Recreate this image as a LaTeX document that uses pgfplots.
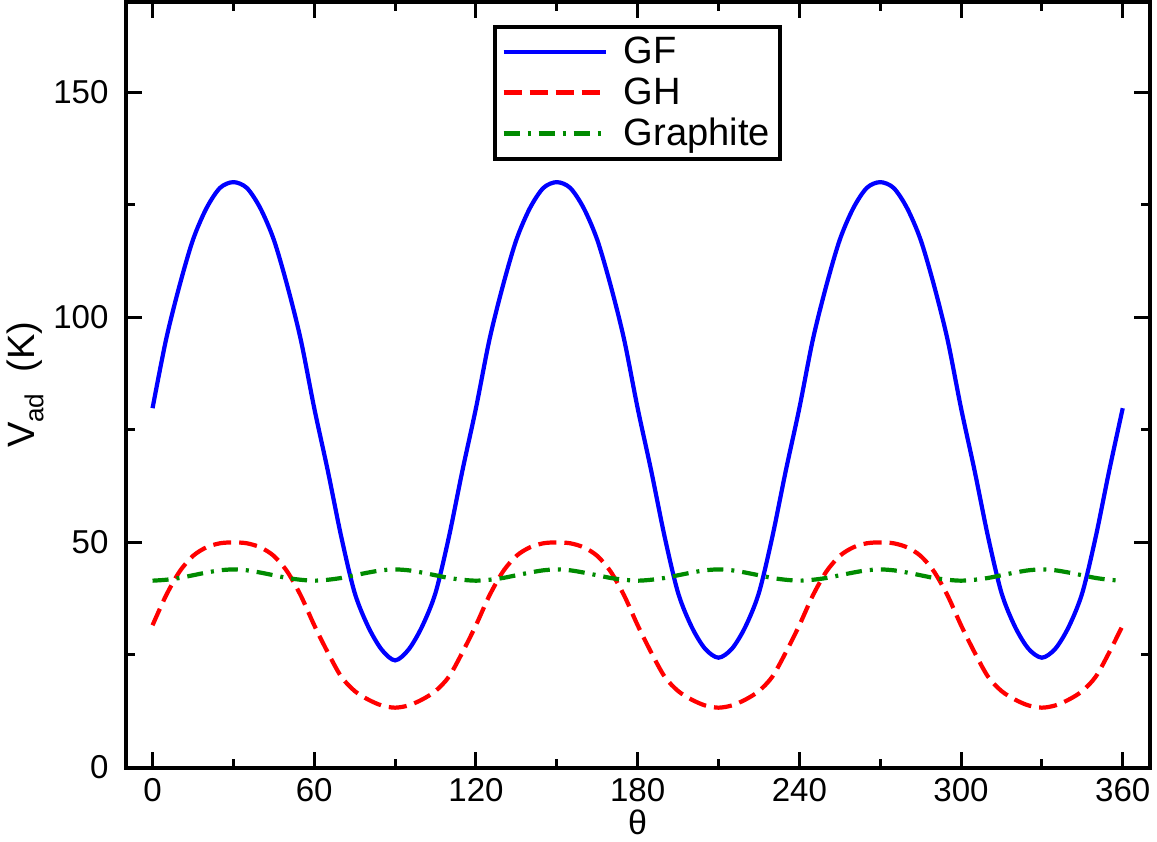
\documentclass[border=0pt]{standalone}
\usepackage{fontspec}
\setmainfont{Liberation Sans}
\usepackage{pgfplots}
\pgfplotsset{compat=1.18}
\definecolor{gfblue}{RGB}{0,0,255}
\definecolor{ghred}{RGB}{255,0,0}
\definecolor{grgreen}{RGB}{0,139,0}
\begin{document}
\begin{tikzpicture}
\begin{axis}[
  width=511pt, height=382pt, scale only axis,
  xmin=-10, xmax=370, ymin=0, ymax=170,
  xtick={0,60,...,360}, minor xtick={30,90,...,330},
  ytick={0,50,100,150}, minor ytick={25,75,125},
  xtick pos=both, ytick pos=both,
  tick align=inside,
  major tick length=8pt, minor tick length=4.5pt,
  every tick/.style={black, line width=1.5pt},
  axis line style={line width=2pt},
  /pgf/number format/assume math mode=true,
  ticklabel style={font=\fontsize{16.5}{19}\selectfont},
  xticklabel style={yshift=-2pt},
  yticklabel style={xshift=-5pt},
  xlabel={θ},
  ylabel={V\raisebox{-0.45ex}{\fontsize{13}{13}\selectfont ad}\ \ (K)},
  xlabel style={font=\fontsize{17}{19}\selectfont, yshift=3pt},
  ylabel style={font=\fontsize{19}{21}\selectfont, yshift=-2pt},
  legend style={at={(0.5,0.97)}, anchor=north, draw=black, line width=2pt,
    font=\fontsize{19}{21}\selectfont, inner sep=3pt, row sep=1.5pt,
    cells={anchor=west}},
  legend image code/.code={\draw[#1] (0pt,0pt) -- (51pt,0pt);},
]
\addplot[gfblue, line width=2.1pt, smooth] coordinates {
(0,79.8)(5,95.0)(10,107.0)(15,117.2)(20,124.2)(25,128.7)(30,130.0)(35,128.7)(40,124.2)(45,117.2)(50,107.0)(55,95.0)
(60,79.8)(65,66.0)(70,51.3)(75,38.8)(80,31.3)(85,26.2)(90,23.8)(95,26.2)(100,31.3)(105,38.8)(110,51.3)(115,66.0)
(120,79.8)(125,95.0)(130,107.0)(135,117.2)(140,124.2)(145,128.7)(150,130.0)(155,128.7)(160,124.2)(165,117.2)(170,107.0)(175,95.0)
(180,79.8)(185,66.0)(190,51.3)(195,38.8)(200,31.3)(205,26.4)(210,24.4)(215,26.4)(220,31.3)(225,38.8)(230,51.3)(235,66.0)
(240,79.8)(245,95.0)(250,107.0)(255,117.2)(260,124.2)(265,128.7)(270,130.0)(275,128.7)(280,124.2)(285,117.2)(290,107.0)(295,95.0)
(300,79.8)(305,66.0)(310,51.3)(315,38.8)(320,31.3)(325,26.4)(330,24.4)(335,26.4)(340,31.3)(345,38.8)(350,51.3)(355,66.0)
(360,79.8)
};
\addlegendentry{\hspace{6pt}GF}
\addplot[ghred, line width=2.1pt, smooth, dash pattern=on 9pt off 4pt] coordinates {
(0,31.6)(5,38.2)(10,43.5)(15,47.0)(20,48.9)(25,49.8)(30,50.0)(35,49.8)(40,48.9)(45,47.0)(50,43.5)(55,38.2)
(60,31.6)(65,25.6)(70,20.2)(75,17.0)(80,15.1)(85,13.8)(90,13.3)(95,13.8)(100,15.1)(105,17.0)(110,20.2)(115,25.6)
(120,31.6)(125,38.2)(130,43.5)(135,47.0)(140,48.9)(145,49.8)(150,50.0)(155,49.8)(160,48.9)(165,47.0)(170,43.5)(175,38.2)
(180,31.6)(185,25.6)(190,20.2)(195,17.0)(200,15.1)(205,13.8)(210,13.3)(215,13.8)(220,15.1)(225,17.0)(230,20.2)(235,25.6)
(240,31.6)(245,38.2)(250,43.5)(255,47.0)(260,48.9)(265,49.8)(270,50.0)(275,49.8)(280,48.9)(285,47.0)(290,43.5)(295,38.2)
(300,31.6)(305,25.6)(310,20.2)(315,17.0)(320,15.1)(325,13.8)(330,13.3)(335,13.8)(340,15.1)(345,17.0)(350,20.2)(355,25.6)
(360,31.6)
};
\addlegendentry{\hspace{6pt}GH}
\addplot[grgreen, line width=2.1pt, smooth, dash pattern=on 8pt off 4pt on 1.5pt off 4pt] coordinates {
(0,41.5)(5,41.7)(10,42.1)(15,42.7)(20,43.3)(25,43.8)(30,44.0)(35,43.8)(40,43.3)(45,42.7)(50,42.1)(55,41.7)
(60,41.5)(65,41.7)(70,42.1)(75,42.7)(80,43.3)(85,43.8)(90,44.0)(95,43.8)(100,43.3)(105,42.7)(110,42.1)(115,41.7)
(120,41.5)(125,41.7)(130,42.1)(135,42.7)(140,43.3)(145,43.8)(150,44.0)(155,43.8)(160,43.3)(165,42.7)(170,42.1)(175,41.7)
(180,41.5)(185,41.7)(190,42.1)(195,42.7)(200,43.3)(205,43.8)(210,44.0)(215,43.8)(220,43.3)(225,42.7)(230,42.1)(235,41.7)
(240,41.5)(245,41.7)(250,42.1)(255,42.7)(260,43.3)(265,43.8)(270,44.0)(275,43.8)(280,43.3)(285,42.7)(290,42.1)(295,41.7)
(300,41.5)(305,41.7)(310,42.1)(315,42.7)(320,43.3)(325,43.8)(330,44.0)(335,43.8)(340,43.3)(345,42.7)(350,42.1)(355,41.7)
(360,41.5)
};
\addlegendentry{\hspace{6pt}Graphite}
\end{axis}
\end{tikzpicture}
\end{document}
